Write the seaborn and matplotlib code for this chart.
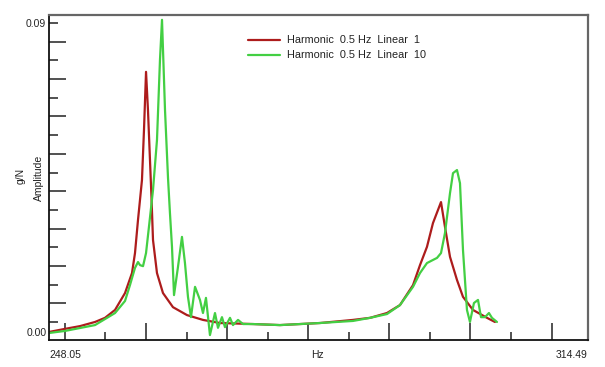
import numpy as np
import matplotlib
matplotlib.use("Agg")
import matplotlib.pyplot as plt
import seaborn as sns

sns.set_style("white")
plt.rcParams["font.family"] = ["Liberation Sans", "DejaVu Sans"]

# Linear 1 (red) response
red_hz = [248.05, 250.02, 251.87, 253.72, 254.95, 256.19, 257.42, 258.28, 258.65,
          259.02, 259.51, 259.76, 260.01, 260.25, 260.68, 260.87, 261.36, 262.10,
          263.33, 265.06, 267.03, 269.13, 273.19, 276.52, 281.45, 285.52, 287.62,
          289.71, 291.31, 292.92, 293.78, 294.64, 295.38, 296.37, 296.86, 297.48,
          298.34, 299.08, 300.31, 302.04, 303.02]
red_amp = [0.0003, 0.0012, 0.0020, 0.0032, 0.0044, 0.0067, 0.0116, 0.0174, 0.0232,
           0.0328, 0.0444, 0.0590, 0.0758, 0.0647, 0.0395, 0.0270, 0.0174, 0.0116,
           0.0075, 0.0052, 0.0038, 0.0029, 0.0026, 0.0023, 0.0029, 0.0038, 0.0044,
           0.0058, 0.0081, 0.0139, 0.0197, 0.0250, 0.0319, 0.0380, 0.0308, 0.0221,
           0.0154, 0.0105, 0.0067, 0.0044, 0.0032]

# Linear 10 (green) response
green_hz = [248.05, 250.02, 253.72, 256.19, 257.42, 258.03, 258.65, 259.02, 259.27,
            259.64, 260.01, 260.38, 260.87, 261.36, 261.73, 261.98, 262.35, 262.72,
            262.96, 263.21, 263.46, 263.95, 264.44, 264.81, 265.18, 265.55, 266.05,
            266.66, 267.03, 267.40, 267.89, 268.51, 268.88, 269.37, 269.74, 270.36,
            270.73, 271.35, 271.96, 273.19, 276.52, 281.45, 285.52, 287.62, 289.71,
            291.31, 292.92, 293.78, 294.64, 295.38, 295.88, 296.37, 296.86, 297.48,
            297.85, 298.34, 298.71, 299.08, 299.57, 299.94, 300.43, 300.93, 301.30,
            301.79, 302.28, 302.65, 303.27]
green_amp = [0.0000, 0.0006, 0.0023, 0.0058, 0.0093, 0.0139, 0.0189, 0.0206, 0.0197,
             0.0194, 0.0232, 0.0310, 0.0415, 0.0560, 0.0793, 0.0909, 0.0647, 0.0450,
             0.0348, 0.0250, 0.0110, 0.0192, 0.0279, 0.0203, 0.0105, 0.0046, 0.0134,
             0.0096, 0.0058, 0.0102, -0.0006, 0.0058, 0.0015, 0.0046, 0.0017, 0.0044,
             0.0023, 0.0038, 0.0026, 0.0026, 0.0023, 0.0029, 0.0035, 0.0044, 0.0055,
             0.0081, 0.0134, 0.0174, 0.0203, 0.0212, 0.0218, 0.0232, 0.0290, 0.0406,
             0.0464, 0.0473, 0.0435, 0.0241, 0.0067, 0.0032, 0.0087, 0.0096, 0.0046,
             0.0046, 0.0058, 0.0044, 0.0032]

labels = ["Harmonic  0.5 Hz  Linear  1", "Harmonic  0.5 Hz  Linear  10"]
colors = ["#ad1c1c", "#43cf43"]
x_min, x_max = 248.05, 314.49

fig = plt.figure(figsize=(6.05, 3.67), dpi=100)
ax = fig.add_axes([49 / 605, 1 - 340 / 367, 539 / 605, 325 / 367])

sns.lineplot(x=red_hz, y=red_amp, color=colors[0], lw=1.6, label=labels[0],
             estimator=None, ax=ax)
sns.lineplot(x=green_hz, y=green_amp, color=colors[1], lw=1.6, label=labels[1],
             estimator=None, ax=ax)

ax.set_xlim(x_min, x_max)
ax.set_ylim(-0.00203, 0.0923)

# inward tick marks, long/short alternating like the analyser display
ytk = 0.09 - 0.005429 * np.arange(17)
ax.set_yticks(ytk[::2])
ax.set_yticklabels(["0.09"] + [""] * (len(ytk[::2]) - 1))
ax.set_yticks(ytk[1::2], minor=True)
ax.set_xticks(np.arange(250, 311, 10))
ax.set_xticklabels([])
ax.set_xticks(np.arange(255, 306, 10), minor=True)
ax.tick_params(axis="y", which="major", direction="in", length=6.5, width=1.1,
               color="#222222", left=True, labelsize=7.5, pad=2)
ax.tick_params(axis="y", which="minor", direction="in", length=12.2, width=1.1,
               color="#222222", left=True)
ax.tick_params(axis="x", which="major", direction="in", length=12.2, width=1.1,
               color="#222222", bottom=True)
ax.tick_params(axis="x", which="minor", direction="in", length=6, width=1.1,
               color="#222222", bottom=True)

for side in ["left", "bottom"]:
    ax.spines[side].set_color("#111111")
    ax.spines[side].set_linewidth(1.3)
for side in ["top", "right"]:
    ax.spines[side].set_color("#666666")
    ax.spines[side].set_linewidth(1.6)

ax.set_xlabel("")
ax.set_ylabel("")
ax.text(-0.004, 0.0, "0.00", transform=ax.get_yaxis_transform(), ha="right",
        va="center", fontsize=7.5, color="#222222")
ax.text(0.0, -0.03, "248.05", transform=ax.transAxes, ha="left", va="top",
        fontsize=7.5, color="#222222")
ax.text(1.0, -0.03, "314.49", transform=ax.transAxes, ha="right", va="top",
        fontsize=7.5, color="#222222")
ax.text(0.498, -0.03, "Hz", transform=ax.transAxes, ha="center", va="top",
        fontsize=7.5, color="#222222")
fig.text(21 / 605, 1 - 176 / 367, "g/N", rotation=90, ha="center", va="center",
         fontsize=7.5, color="#222222")
fig.text(39 / 605, 1 - 178 / 367, "Amplitude", rotation=90, ha="center",
         va="center", fontsize=7.5, color="#222222")

leg = ax.legend(loc="upper left", bbox_to_anchor=(0.369, 0.937), frameon=False,
                fontsize=7.8, handlelength=3.0, handletextpad=0.6,
                labelspacing=0.45, borderpad=0, borderaxespad=0)
for t in leg.get_texts():
    t.set_color("#222222")

fig.savefig("out.png", dpi=100)
